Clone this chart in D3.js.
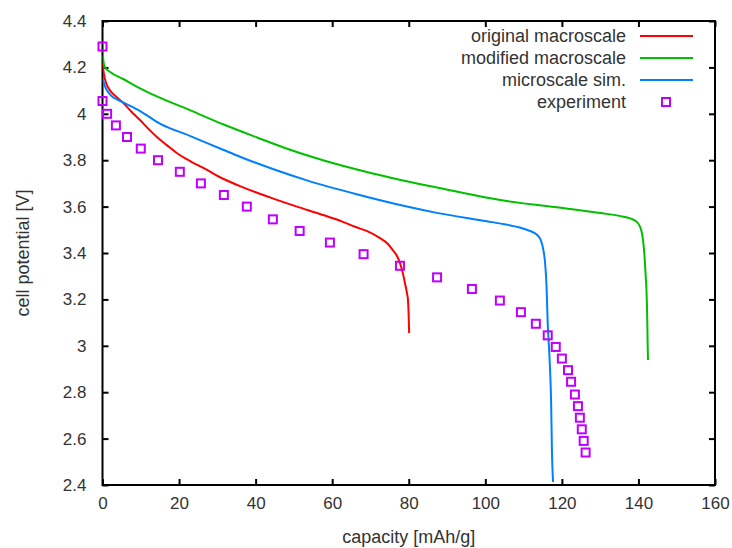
<!DOCTYPE html>
<html><head><meta charset="utf-8">
<script src="https://cdn.jsdelivr.net/npm/d3@7"></script>
<style>
body{margin:0;background:#fff;}
text{font-family:"Liberation Sans",Arial,sans-serif;fill:#333;}
</style></head>
<body><svg id="c" width="732" height="548"></svg>
<script>
const xTicks=[0,20,40,60,80,100,120,140,160];
const yTicks=[2.4,2.6,2.8,3,3.2,3.4,3.6,3.8,4,4.2,4.4];
const seriesNames=["original macroscale","modified macroscale","microscale sim.","experiment"];
const originalMacro=[[0,4.22],[0.2,4.19],[0.5,4.16],[1,4.13],[2,4.10],[3.5,4.075],[5.4,4.047],[7.5,4.01],[9.8,3.973],[12,3.935],[14.2,3.90],[16.8,3.865],[19.4,3.831],[23,3.795],[27.3,3.758],[31.5,3.72],[36.7,3.683],[43.7,3.640],[50.8,3.600],[57.6,3.564],[62.8,3.534],[66,3.513],[69,3.495],[72.4,3.465],[74.5,3.44],[75.8,3.413],[77,3.385],[77.7,3.357],[78.5,3.31],[79,3.271],[79.5,3.23],[79.8,3.197],[80,3.12],[80.1,3.055]];
const modifiedMacro=[[0.1,4.25],[0.3,4.22],[0.6,4.202],[2,4.18],[5.4,4.150],[9.8,4.11],[14.2,4.075],[22.8,4.016],[31.5,3.955],[40.4,3.898],[49,3.845],[57.6,3.800],[70.6,3.743],[88,3.680],[104.8,3.626],[122,3.590],[130,3.572],[135,3.560],[138,3.548],[139.5,3.535],[140.5,3.51],[140.9,3.486],[141.3,3.44],[141.6,3.383],[141.9,3.30],[142.1,3.24],[142.3,3.12],[142.4,3.012],[142.5,2.939]];
const microSim=[[0.1,4.15],[0.4,4.13],[1.2,4.10],[2.5,4.075],[3.8,4.062],[6.5,4.04],[9.8,4.012],[15,3.958],[22.8,3.905],[31.5,3.845],[35.9,3.815],[44.5,3.762],[53.4,3.713],[66.4,3.653],[79.5,3.600],[87.3,3.573],[100.4,3.537],[105,3.524],[109,3.510],[111.5,3.496],[113.4,3.480],[114.5,3.455],[115.2,3.41],[115.6,3.36],[116,3.253],[116.3,3.098],[116.8,2.939],[117.2,2.75],[117.4,2.55],[117.7,2.413]];
const experiment=[[0,4.29],[0,4.055],[1.2,4.0],[3.5,3.95],[6.4,3.90],[10,3.85],[14.5,3.80],[20.2,3.75],[25.7,3.70],[31.7,3.65],[37.7,3.60],[44.5,3.545],[51.5,3.495],[59.4,3.445],[68.2,3.395],[77.7,3.345],[87.4,3.295],[96.5,3.245],[103.8,3.195],[109.3,3.145],[113.2,3.095],[116.3,3.045],[118.4,2.995],[120,2.945],[121.6,2.895],[122.4,2.845],[123.4,2.79],[124.2,2.74],[124.7,2.69],[125.2,2.64],[125.7,2.59],[126.2,2.54]];
const colors=["#ff0000","#00c000","#0080ff","#c000ff"];

const svg=d3.select("#c");
const L=102.5,R=715,T=21,B=485;
const x=d3.scaleLinear().domain([0,160]).range([L,R]);
const y=d3.scaleLinear().domain([2.4,4.4]).range([B,T]);
svg.append("defs").append("clipPath").attr("id","pc").append("rect").attr("x",L).attr("y",T).attr("width",R-L).attr("height",B-T);

const fmt=d=>String(+d.toFixed(1));
const styleText=g=>g.selectAll("text").attr("font-size",17).attr("font-family","Liberation Sans, Arial, sans-serif").attr("fill","#333");
svg.append("g").attr("transform",`translate(0,${B})`).call(d3.axisBottom(x).tickValues(xTicks).tickSize(-6).tickPadding(12).tickFormat(d=>d)).call(g=>{g.select(".domain").remove();styleText(g);});
svg.append("g").attr("transform",`translate(0,${T})`).call(d3.axisTop(x).tickValues(xTicks).tickSize(-6).tickFormat("")).call(g=>g.select(".domain").remove());
svg.append("g").attr("transform",`translate(${L},0)`).call(d3.axisLeft(y).tickValues(yTicks).tickSize(-6).tickPadding(16).tickFormat(fmt)).call(g=>{g.select(".domain").remove();styleText(g);});
svg.append("g").attr("transform",`translate(${R},0)`).call(d3.axisRight(y).tickValues(yTicks).tickSize(-6).tickFormat("")).call(g=>g.select(".domain").remove());
svg.selectAll(".tick line").attr("stroke","#000").attr("stroke-width",2);
svg.append("rect").attr("x",L).attr("y",T).attr("width",R-L).attr("height",B-T).attr("fill","none").attr("stroke","#000").attr("stroke-width",2);

const line=d3.line().curve(d3.curveMonotoneX).x(d=>x(d[0])).y(d=>y(d[1]));
const pg=svg.append("g").attr("clip-path","url(#pc)");
[originalMacro,modifiedMacro,microSim].forEach((s,i)=>{
  pg.append("path").datum(s).attr("d",line).attr("fill","none").attr("stroke",colors[i]).attr("stroke-width",2);
});
svg.append("g").selectAll("rect").data(experiment).join("rect")
 .attr("x",d=>x(d[0])-4).attr("y",d=>y(d[1])-4).attr("width",8).attr("height",8)
 .attr("fill","none").attr("stroke",colors[3]).attr("stroke-width",2);

const ly=[36,58,80,102];
seriesNames.forEach((n,i)=>{
  svg.append("text").attr("x",626).attr("y",ly[i]).attr("dy","0.35em").attr("text-anchor","end").attr("font-size",18).text(n);
  if(i<3) svg.append("line").attr("x1",640).attr("x2",693).attr("y1",ly[i]).attr("y2",ly[i]).attr("stroke",colors[i]).attr("stroke-width",2);
  else svg.append("rect").attr("x",662).attr("y",ly[i]-4).attr("width",8).attr("height",8).attr("fill","none").attr("stroke",colors[3]).attr("stroke-width",2);
});
svg.append("text").attr("x",(L+R)/2).attr("y",543).attr("text-anchor","middle").attr("font-size",18).text("capacity [mAh/g]");
svg.append("text").attr("transform",`translate(29,${(T+B)/2}) rotate(-90)`).attr("text-anchor","middle").attr("font-size",18).text("cell potential [V]");
</script></body></html>
